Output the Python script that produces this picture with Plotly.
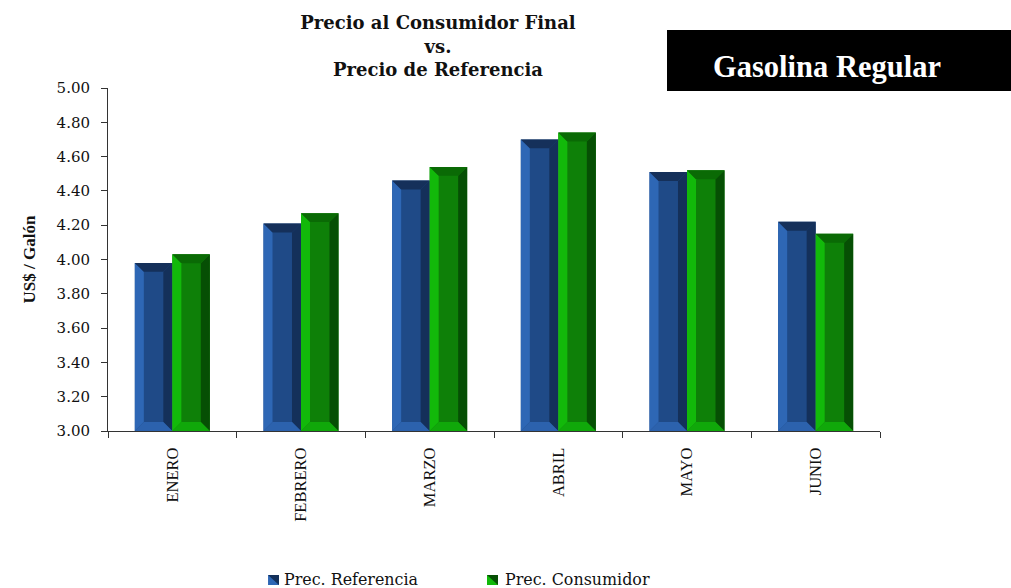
import plotly.graph_objects as go

months = ["ENERO", "FEBRERO", "MARZO", "ABRIL", "MAYO", "JUNIO"]
referencia = [3.98, 4.21, 4.46, 4.70, 4.51, 4.22]
consumidor = [4.03, 4.27, 4.54, 4.74, 4.52, 4.15]
y_ticks = [3.0, 3.2, 3.4, 3.6, 3.8, 4.0, 4.2, 4.4, 4.6, 4.8, 5.0]
legend_names = ["Prec. Referencia", "Prec. Consumidor"]

SERIF = "Liberation Serif, serif"
WIDE = "DejaVu Serif, serif"
BAR_GAP = 0.417
BAR_W = (1 - BAR_GAP) / 2
BEVEL_X = 0.07
BEVEL_Y = 0.052
BASE = 3.0

blue = dict(center="#1f4a87", left="#2e67b5", right="#14305a", top="#15305a", bottom="#2c62ad")
green = dict(center="#0e8008", left="#12b90a", right="#064f04", top="#0a6a05", bottom="#10a80a")

fig = go.Figure()
fig.add_bar(x=months, y=referencia, name=legend_names[0], marker=dict(color=blue["center"], line=dict(width=0)))
fig.add_bar(x=months, y=consumidor, name=legend_names[1], marker=dict(color=green["center"], line=dict(width=0)))


def poly(points, color, xref="x", yref="y"):
    path = "M " + " L ".join(f"{a},{b}" for a, b in points) + " Z"
    return dict(type="path", path=path, xref=xref, yref=yref, fillcolor=color, line=dict(width=0), layer="above")


shapes = []
for i, (r, c) in enumerate(zip(referencia, consumidor)):
    for x0, v, col in ((i - BAR_W, r, blue), (i, c, green)):
        x1 = x0 + BAR_W
        ix0, ix1 = x0 + BEVEL_X, x1 - BEVEL_X
        iy0, iy1 = BASE + BEVEL_Y, v - BEVEL_Y
        shapes.append(poly([(x0, BASE), (ix0, iy0), (ix0, iy1), (x0, v)], col["left"]))
        shapes.append(poly([(x1, BASE), (ix1, iy0), (ix1, iy1), (x1, v)], col["right"]))
        shapes.append(poly([(x0, v), (ix0, iy1), (ix1, iy1), (x1, v)], col["top"]))
        shapes.append(poly([(x0, BASE), (ix0, iy0), (ix1, iy0), (x1, BASE)], col["bottom"]))

# black label box
shapes.append(dict(type="rect", xref="paper", yref="paper", x0=0.7241, x1=1.1697, y0=0.991, y1=1.169,
                   fillcolor="black", line=dict(width=0), layer="above"))

# legend swatches and labels, laid out in paper space
annotations = [dict(text="<b>Gasolina Regular</b>", xref="paper", yref="paper", x=0.9313, y=1.061,
                    xanchor="center", yanchor="middle", showarrow=False,
                    font=dict(size=30.5, color="white", family=SERIF))]
SW_Y0, SW_Y1 = -0.449, -0.4198
for sx0, sx1, tx, col, name in ((0.2073, 0.2215, 0.2254, blue, legend_names[0]),
                                (0.4909, 0.5052, 0.5116, green, legend_names[1])):
    shapes.append(dict(type="rect", xref="paper", yref="paper", x0=sx0, x1=sx1, y0=SW_Y0, y1=SW_Y1,
                       fillcolor=col["left"], line=dict(width=0)))
    shapes.append(poly([(sx0, SW_Y1), (sx1, SW_Y1), (sx1, SW_Y0)], col["right"], "paper", "paper"))
    annotations.append(dict(text=name, xref="paper", yref="paper", x=tx, y=-0.434, xanchor="left",
                            yanchor="middle", showarrow=False, font=dict(size=15.9, family=WIDE, color="#111111")))

fig.update_layout(
    width=1011, height=588, autosize=False,
    margin=dict(l=108, r=131, t=88, b=157, pad=0, autoexpand=False),
    paper_bgcolor="white", plot_bgcolor="white",
    barmode="group", bargap=BAR_GAP, bargroupgap=0, showlegend=False,
    font=dict(family=SERIF, color="#111111"),
    title=dict(text="<b>Precio al Consumidor Final<br>vs.<br>Precio de Referencia</b>",
               font=dict(size=18, color="#111111", family=WIDE), x=0.4275, xref="paper", xanchor="center",
               y=0.9504, yanchor="top"),
    xaxis=dict(type="category", categoryorder="array", categoryarray=months, tickson="boundaries",
               ticks="outside", ticklen=6, tickcolor="#333333", showline=True, linecolor="#333333",
               linewidth=1, tickangle=-90, ticklabelstandoff=9, tickfont=dict(size=16.5, family=SERIF), showgrid=False),
    yaxis=dict(range=[3, 5], tickvals=y_ticks, tickformat=".2f", ticks="outside", ticklen=6,
               tickcolor="#333333", showline=True, linecolor="#333333", linewidth=1, showgrid=False,
               ticklabelstandoff=8, tickfont=dict(size=15, family=WIDE), zeroline=False,
               title=dict(text="<b>US$ / Galón</b>", font=dict(size=17), standoff=16)),
    shapes=shapes,
    annotations=annotations,
)
fig.write_html("out.html", default_width="1011px", default_height="588px",
               config=dict(displayModeBar=False),
               post_script="document.body.style.margin='0';document.documentElement.style.overflow='hidden';")
